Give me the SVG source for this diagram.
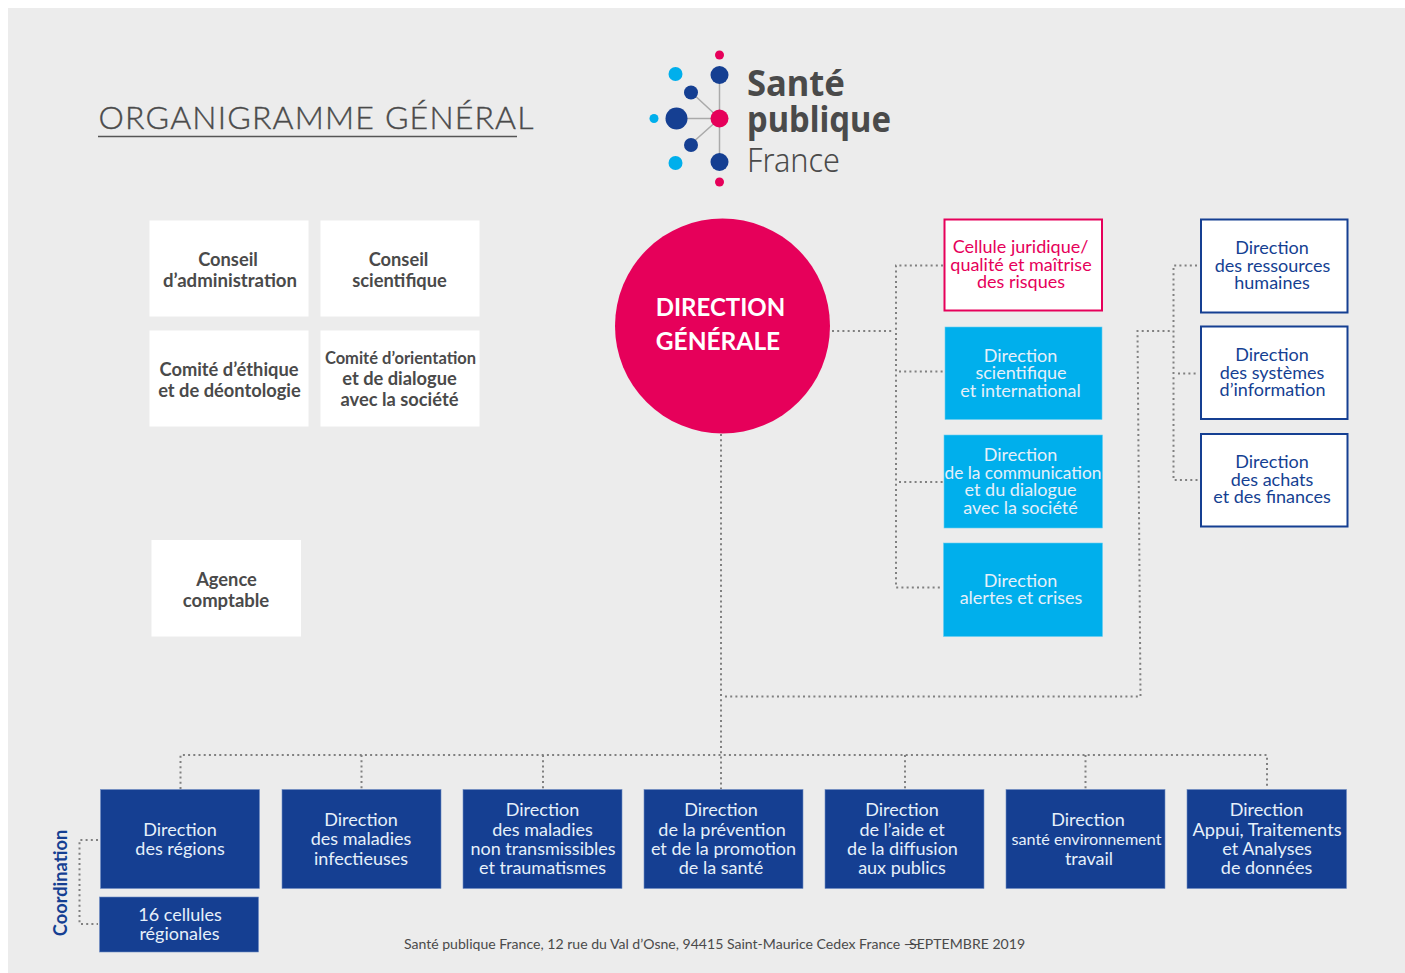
<svg xmlns="http://www.w3.org/2000/svg" width="1405" height="973" viewBox="0 0 1405 973">
<style>
text{font-family:"Lato","Noto Sans",sans-serif;text-anchor:middle}
.w{fill:#fff}
.b text,.c text{fill:#e6f0fa;font-size:18px}
.b rect{fill:#153f92;stroke:#6f8cc4;stroke-width:.6}
.c rect{fill:#00afec;stroke:#66cdf2;stroke-width:.6}
.g text{fill:#4a4a4a;font-size:18.300px;font-weight:700}
.o rect{fill:#fff;stroke:#153f92;stroke-width:2}
.o text{fill:#153f92;font-size:18px}
.p rect{fill:#fff;stroke:#e6005a;stroke-width:2}
.p text{fill:#e6005a;font-size:18px}
.logo-t{text-anchor:start;font-family:"Noto Sans",sans-serif;fill:#4a4a4a}
#connectors path{fill:none;stroke:#808080;stroke-width:2;stroke-dasharray:2 3.200}
</style>
<rect width="1405" height="973" fill="#fff"/>
<rect x="8" y="8" width="1397" height="965" fill="#ececec"/>
<g id="title"><text x="316" y="128.500" font-size="32" font-weight="300" fill="#4a4a4a" stroke="#4a4a4a" stroke-width=".4" textLength="435" lengthAdjust="spacing">ORGANIGRAMME GÉNÉRAL</text><path d="M98 136.500H517" stroke="#555" stroke-width="1.500"/></g>
<g id="logo">
<path d="M719.500 75V162M676 118.500H719.500M691 92L719.500 118.500L691 144" fill="none" stroke="#aaa" stroke-width="1.500"/>
<circle cx="719.500" cy="55" r="4.500" fill="#e6005a"/><circle cx="719.500" cy="182" r="4.500" fill="#e6005a"/><circle cx="719.500" cy="118.500" r="9" fill="#e6005a"/>
<circle cx="719.500" cy="75" r="9" fill="#153f92"/><circle cx="719.500" cy="162" r="9" fill="#153f92"/><circle cx="691" cy="92.500" r="7" fill="#153f92"/><circle cx="691" cy="145" r="7" fill="#153f92"/><circle cx="676.500" cy="118.500" r="11" fill="#153f92"/>
<circle cx="675.500" cy="74" r="7" fill="#00afec"/><circle cx="675.500" cy="163" r="7" fill="#00afec"/><circle cx="654" cy="118.500" r="4.500" fill="#00afec"/>
<text class="logo-t" x="747" y="96" font-size="36" font-weight="700" textLength="98" lengthAdjust="spacingAndGlyphs">Santé</text><text class="logo-t" x="747" y="132" font-size="36" font-weight="700" textLength="144" lengthAdjust="spacingAndGlyphs">publique</text><text class="logo-t" x="747" y="172" font-size="33" font-weight="300" textLength="93" lengthAdjust="spacingAndGlyphs">France</text>
</g>
<g id="connectors">
<path d="M832 331H892M943 265.500H896V587.500H943M899 371.500H943M899 482H943"/>
<path d="M721 434V789M725 696.500H1140.500L1137.500 331H1170M1197 265.500H1173.500V480H1198M1178 373.500H1197"/>
<path d="M180.500 789V755H1267V789M361.500 755V789M543 755V789M905 755V789M1085.500 755V789"/>
<path d="M98 840H79.500V924H98"/>
</g>
<g id="n-ca" class="g"><rect class="w" x="149.500" y="220.500" width="159" height="96"/><text x="228" y="265.500">Conseil</text><text x="230" y="286.500" style="font-size:18.600px">d’administration</text></g>
<g id="n-cs" class="g"><rect class="w" x="320.500" y="220.500" width="159" height="96"/><text x="398.500" y="265.500">Conseil</text><text x="399.500" y="286.500">scientifique</text></g>
<g id="n-ce" class="g"><rect class="w" x="149.500" y="330.500" width="159" height="96"/><text x="229" y="375.500">Comité d’éthique</text><text x="229.500" y="396.500">et de déontologie</text></g>
<g id="n-co" class="g"><rect class="w" x="320.500" y="330.500" width="159" height="96"/><text x="400.500" y="363.500" style="font-size:16.500px">Comité d’orientation</text><text x="399.500" y="384.500">et de dialogue</text><text x="399.500" y="405.500">avec la société</text></g>
<g id="n-ac" class="g"><rect class="w" x="151.500" y="540" width="149.500" height="96.500"/><text x="226.500" y="585.500">Agence</text><text x="226" y="606.500" style="font-size:18.500px">comptable</text></g>
<g id="n-dg"><circle cx="722.500" cy="326" r="107.500" fill="#e6005a"/><text x="720.500" y="316" font-size="24" font-weight="700" fill="#fff">DIRECTION</text><text x="718" y="350" font-size="24.500" font-weight="700" fill="#fff">GÉNÉRALE</text></g>
<g id="n-cj" class="p"><rect x="944.500" y="219.500" width="157.500" height="91"/><text x="1020.500" y="253">Cellule juridique/</text><text x="1021" y="271">qualité et maîtrise</text><text x="1021" y="288">des risques</text></g>
<g id="n-si" class="c"><rect x="945" y="327" width="157" height="92.500"/><text x="1020.500" y="361.500">Direction</text><text x="1021" y="379">scientifique</text><text x="1020.500" y="396.500">et international</text></g>
<g id="n-cd" class="c"><rect x="944" y="435" width="158.500" height="93"/><text x="1020.500" y="461">Direction</text><text x="1023" y="478.500" style="font-size:17.300px">de la communication</text><text x="1020.500" y="496">et du dialogue</text><text x="1020.500" y="513.500">avec la société</text></g>
<g id="n-ae" class="c"><rect x="943.500" y="543" width="159" height="93.500"/><text x="1020.500" y="586.500">Direction</text><text x="1021" y="604">alertes et crises</text></g>
<g id="n-rh" class="o"><rect x="1201" y="219.500" width="146.500" height="93"/><text x="1272" y="254">Direction</text><text x="1272.500" y="271.500">des ressources</text><text x="1272" y="289">humaines</text></g>
<g id="n-sy" class="o"><rect x="1201" y="326.500" width="146.500" height="92.500"/><text x="1272" y="361">Direction</text><text x="1272" y="378.500">des systèmes</text><text x="1272.500" y="396">d’information</text></g>
<g id="n-af" class="o"><rect x="1201" y="434" width="146.500" height="92.500"/><text x="1272" y="468">Direction</text><text x="1272" y="485.500">des achats</text><text x="1272" y="503">et des finances</text></g>
<g id="n-re" class="b"><rect x="100.500" y="789.500" width="159" height="99"/><text x="180" y="835.500">Direction</text><text x="180" y="855">des régions</text></g>
<g id="n-mi" class="b"><rect x="282" y="789.500" width="159" height="99"/><text x="361" y="826">Direction</text><text x="361" y="845">des maladies</text><text x="361" y="864.500">infectieuses</text></g>
<g id="n-mn" class="b"><rect x="463" y="789.500" width="159" height="99"/><text x="542.500" y="816">Direction</text><text x="542.500" y="835.500">des maladies</text><text x="543" y="855">non transmissibles</text><text x="542.500" y="874">et traumatismes</text></g>
<g id="n-pp" class="b"><rect x="644" y="789.500" width="159" height="99"/><text x="721" y="816">Direction</text><text x="722" y="835.500">de la prévention</text><text x="723.500" y="855">et de la promotion</text><text x="721" y="874">de la santé</text></g>
<g id="n-ai" class="b"><rect x="825" y="789.500" width="159" height="99"/><text x="902" y="816">Direction</text><text x="902" y="835.500">de l’aide et</text><text x="902.500" y="855">de la diffusion</text><text x="902" y="874">aux publics</text></g>
<g id="n-se" class="b"><rect x="1006" y="789.500" width="159" height="99"/><text x="1088" y="826">Direction</text><text x="1086.500" y="845" style="font-size:16.200px">santé environnement</text><text x="1089" y="864.500">travail</text></g>
<g id="n-ta" class="b"><rect x="1187" y="789.500" width="159.500" height="99"/><text x="1266.500" y="816">Direction</text><text x="1267" y="835.500" style="font-size:18.200px">Appui, Traitements</text><text x="1267" y="855">et Analyses</text><text x="1266.500" y="874">de données</text></g>
<g id="n-16" class="b"><rect x="99.500" y="897" width="159" height="55"/><text x="180" y="921">16 cellules</text><text x="179.500" y="940">régionales</text></g>
<text id="coord" transform="translate(67 883) rotate(-90)" font-size="18.300" font-weight="700" fill="#153f92">Coordination</text>
<text id="footer" x="714.500" y="949" font-size="14.070" fill="#4a4a4a">Santé publique France, 12 rue du Val d’Osne, 94415 Saint-Maurice Cedex France -SEPTEMBRE 2019</text>
<path d="M908 944.500H919" stroke="#4a4a4a"/>
</svg>
